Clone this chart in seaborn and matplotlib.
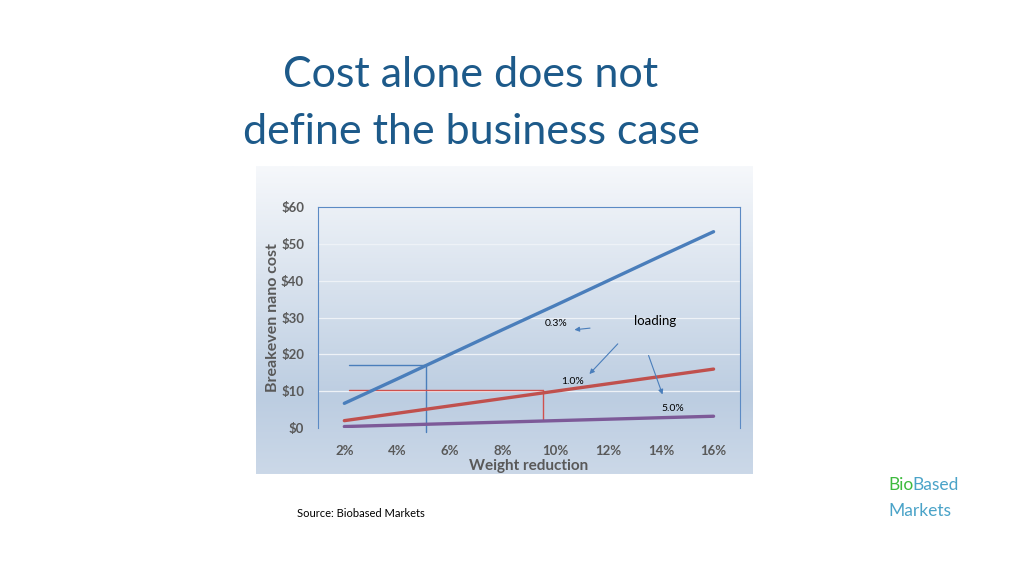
import numpy as np
import pandas as pd
import matplotlib
matplotlib.use("Agg")
import matplotlib.pyplot as plt
import seaborn as sns

# chart data
weight_reduction = ["2%", "4%", "6%", "8%", "10%", "12%", "14%", "16%"]
cost_03 = [6.7, 13.3, 20.0, 26.7, 33.3, 40.0, 46.7, 53.3]
cost_10 = [2.0, 4.0, 6.0, 8.0, 10.0, 12.0, 14.0, 16.0]
cost_50 = [0.4, 0.8, 1.2, 1.6, 2.0, 2.4, 2.8, 3.2]
loadings = ["0.3%", "1.0%", "5.0%"]
y_ticks = [0, 10, 20, 30, 40, 50, 60]
y_tick_labels = ["$0", "$10", "$20", "$30", "$40", "$50", "$60"]

line_colors = {"0.3%": "#4a7ebb", "1.0%": "#c0504d", "5.0%": "#7d5a98"}
TITLE_BLUE = "#1d5a8a"
GREY = "#595959"

sns.set_theme(style="white")
plt.rcParams["font.family"] = ["Lato", "DejaVu Sans"]

df = pd.DataFrame({
    "Weight reduction": weight_reduction * 3,
    "Cost": cost_03 + cost_10 + cost_50,
    "Loading": np.repeat(loadings, len(weight_reduction)),
})

fig = plt.figure(figsize=(10.24, 5.76), dpi=100)
fig.patch.set_facecolor("white")

# gradient panel behind the chart
panel = fig.add_axes([0.25, 0.1771, 0.4844, 0.5347])
grad = np.linspace(0, 1, 256).reshape(-1, 1)
cmap = matplotlib.colors.LinearSegmentedColormap.from_list(
    "panel", [(0.0, "#f6f8fb"), (0.75, "#bccde1"), (1.0, "#cbd8e8")])
panel.imshow(grad, aspect="auto", cmap=cmap, extent=[0, 1, 0, 1])
panel.set_axis_off()

ax = fig.add_axes([0.3105, 0.2569, 0.4121, 0.3837])
ax.set_facecolor("none")
sns.lineplot(data=df, x="Weight reduction", y="Cost", hue="Loading",
             palette=line_colors, linewidth=2.4, legend=False, ax=ax, zorder=3)

ax.set_xlim(-0.5, len(weight_reduction) - 0.5)
ax.set_ylim(0, 60)
ax.set_yticks(y_ticks)
ax.set_yticklabels(y_tick_labels)
ax.tick_params(axis="both", length=0, labelsize=9.5, labelcolor=GREY)
ax.tick_params(axis="y", pad=10)
ax.tick_params(axis="x", pad=12)
for lab in ax.get_xticklabels() + ax.get_yticklabels():
    lab.set_fontweight("bold")
for y in y_ticks[1:-1]:
    ax.axhline(y, color="#eef2f7", linewidth=0.9, zorder=1)
for side in ["left", "top", "right"]:
    ax.spines[side].set_color("#5b8ac4")
    ax.spines[side].set_linewidth(0.8)
ax.spines["bottom"].set_visible(False)

ax.set_xlabel("Weight reduction", fontsize=11, fontweight="bold", color=GREY, labelpad=1.5)
ax.set_ylabel("Breakeven nano cost", fontsize=11.5, fontweight="bold", color=GREY, labelpad=1)

# breakeven guide lines
ax.plot([0.08, 1.55], [17.1, 17.1], color="#4a7ebb", lw=1.0, zorder=2.5)
ax.plot([1.55, 1.55], [17.1, -1.0], color="#4a7ebb", lw=1.0, zorder=2.5, clip_on=False)
ax.plot([0.08, 3.77], [10.2, 10.2], color="#d0504d", lw=1.0, zorder=2.5)
ax.plot([3.77, 3.77], [10.2, 2.1], color="#d0504d", lw=1.0, zorder=2.5)

# annotations
ax.text(4.01, 28.3, "0.3%", fontsize=7.5, color="black", ha="center", va="center")
ax.text(5.90, 29.1, "loading", fontsize=9.5, color="black", ha="center", va="center")
ax.text(4.33, 12.5, "1.0%", fontsize=7.5, color="black", ha="center", va="center")
ax.text(6.22, 5.4, "5.0%", fontsize=7.5, color="black", ha="center", va="center")
arrow = dict(arrowstyle="-|>", color="#4a7ebb", lw=0.8, mutation_scale=7)
ax.annotate("", xy=(4.31, 26.6), xytext=(4.71, 27.2), arrowprops=arrow)
ax.annotate("", xy=(4.61, 14.1), xytext=(5.22, 23.4), arrowprops=arrow)
ax.annotate("", xy=(6.05, 8.4), xytext=(5.75, 20.4), arrowprops=arrow)

# slide text
fig.text(0.46, 0.870, "Cost alone does not", fontsize=31, color=TITLE_BLUE,
         ha="center", va="center")
fig.text(0.46, 0.771, "define the business case", fontsize=31, color=TITLE_BLUE,
         ha="center", va="center")
fig.text(0.29, 0.108, "Source: Biobased Markets", fontsize=8, color="black",
         ha="left", va="center")
bio = fig.text(0.868, 0.158, "Bio", fontsize=12.5, color="#3dba3d", ha="left", va="center")
fig.canvas.draw()
bio_right = (bio.get_window_extent().x1 - 1.5) / fig.bbox.width
fig.text(bio_right, 0.158, "Based", fontsize=12.5, color="#4aa3c8", ha="left", va="center")
fig.text(0.868, 0.113, "Markets", fontsize=12.5, color="#4aa3c8", ha="left", va="center")

fig.savefig("out.png", dpi=100, facecolor="white")
